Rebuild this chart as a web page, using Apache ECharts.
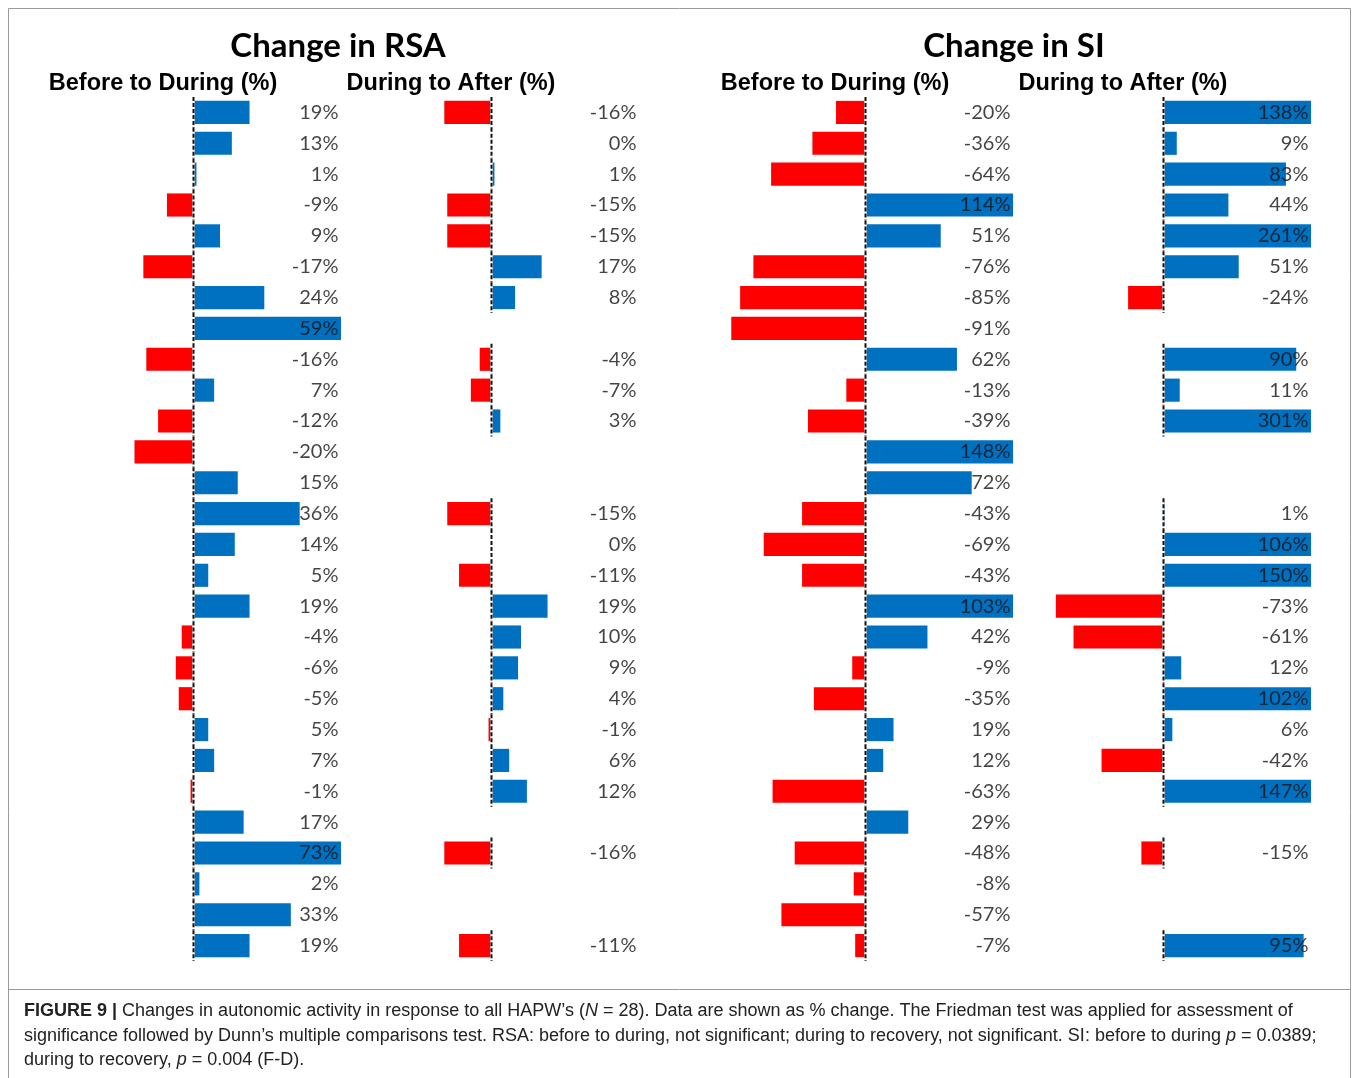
<!DOCTYPE html>
<html>
<head>
<meta charset="utf-8">
<script src="https://cdn.jsdelivr.net/npm/echarts@6/dist/echarts.min.js"></script>
<style>
  html, body { margin: 0; padding: 0; background: #fff; }
  #chart { width: 1358px; height: 1078px; }
</style>
</head>
<body>
<div id="chart"></div>
<script>
// ---- data ----
const rowsCount = 28;
const categories = Array.from({ length: rowsCount }, (_, i) => 'HAPW ' + (i + 1));
const rsaBeforeDuring = [19, 13, 1, -9, 9, -17, 24, 59, -16, 7, -12, -20, 15, 36, 14, 5, 19, -4, -6, -5, 5, 7, -1, 17, 73, 2, 33, 19];
const rsaDuringAfter = [-16, 0, 1, -15, -15, 17, 8, null, -4, -7, 3, null, null, -15, 0, -11, 19, 10, 9, 4, -1, 6, 12, null, -16, null, null, -11];
const siBeforeDuring = [-20, -36, -64, 114, 51, -76, -85, -91, 62, -13, -39, 148, 72, -43, -69, -43, 103, 42, -9, -35, 19, 12, -63, 29, -48, -8, -57, -7];
const siDuringAfter = [138, 9, 83, 44, 261, 51, -24, null, 90, 11, 301, null, null, 1, 106, 150, -73, -61, 12, 102, 6, -42, 147, null, -15, null, null, 95];
const panelTitles = ['Before to During (%)', 'During to After (%)', 'Before to During (%)', 'During to After (%)'];
const mainTitles = ['Change in RSA', 'Change in SI'];
const axisLimits = [50, 50, 100, 100];

// ---- layout ----
const BLUE = '#0070C0', RED = '#FF0000';
const gridLefts = [46, 344, 718, 1016];
const gridWidth = 295;
const gridTop = 97, gridHeight = 864;
const panels = [rsaBeforeDuring, rsaDuringAfter, siBeforeDuring, siDuringAfter];

const grids = [], xAxes = [], yAxes = [], series = [];
panels.forEach((arr, k) => {
  grids.push({ left: gridLefts[k], top: gridTop, width: gridWidth, height: gridHeight });
  xAxes.push({ type: 'value', gridIndex: k, min: -axisLimits[k], max: axisLimits[k], show: false, splitLine: { show: false } });
  yAxes.push({ type: 'category', gridIndex: k, data: categories, inverse: true, show: false });
  series.push({
    type: 'bar', xAxisIndex: k, yAxisIndex: k,
    data: arr,
    barCategoryGap: '25%',
    clip: true,
    itemStyle: { color: p => (p.value < 0 ? RED : BLUE) },
    z: 2,
    silent: true
  });
  const present = [];
  arr.forEach((v, i) => { if (v !== null) present.push([0, i, v]); });
  series.push({
    type: 'custom', xAxisIndex: k, yAxisIndex: k,
    data: present,
    encode: { x: 0, y: 1 },
    clip: false,
    z: 5,
    silent: true,
    renderItem: (params, api) => {
      const c = api.coord([api.value(0), api.value(1)]);
      const h = api.size([0, 1])[1];
      return {
        type: 'group',
        children: [
          { type: 'line', shape: { x1: c[0], y1: c[1] - h / 2, x2: c[0], y2: c[1] + h / 2 }, style: { stroke: '#ffffff', lineWidth: 2.4 } },
          { type: 'line', shape: { x1: c[0], y1: c[1] - h / 2, x2: c[0], y2: c[1] + h / 2 }, style: { stroke: '#111', lineWidth: 2, lineDash: [4, 2] } }
        ]
      };
    }
  });
  series.push({
    type: 'scatter', xAxisIndex: k, yAxisIndex: k,
    data: present.map(d => [axisLimits[k], d[1], d[2]]),
    symbolSize: 1,
    clip: false,
    itemStyle: { color: 'transparent' },
    z: 6,
    silent: true,
    label: {
      show: true, position: 'left', distance: 2,
      formatter: p => p.value[2] + '%',
      color: '#141414', fontSize: 20, fontFamily: 'Lato'
    }
  });
});

const titleCenters = [338, 1014];
const subCenters = [163, 451, 835, 1123];
const graphics = [
  { type: 'rect', shape: { x: 8.5, y: 8.5, width: 1342, height: 1090 }, style: { fill: 'none', stroke: '#9a9a9a', lineWidth: 1 }, silent: true },
  { type: 'line', shape: { x1: 8.5, y1: 989.5, x2: 1350.5, y2: 989.5 }, style: { stroke: '#9a9a9a', lineWidth: 1 }, silent: true }
];
mainTitles.forEach((t, i) => graphics.push({
  type: 'text', x: titleCenters[i], y: 46,
  style: { text: t, font: 'bold 33px Lato', fill: '#000', textAlign: 'center', textVerticalAlign: 'middle' }
}));
panelTitles.forEach((t, i) => graphics.push({
  type: 'text', x: subCenters[i], y: 84,
  style: { text: t, font: 'bold 23.5px "Liberation Sans"', fill: '#000', textAlign: 'center', textVerticalAlign: 'middle' }
}));
const capRich = {
  b: { fontFamily: 'Liberation Sans', fontWeight: 'bold', fontSize: 18, fill: '#222', color: '#222' },
  i: { fontFamily: 'Liberation Sans', fontStyle: 'italic', fontSize: 18, fill: '#222', color: '#222' },
  n: { fontFamily: 'Liberation Sans', fontSize: 18, fill: '#222', color: '#222' }
};
const captionLines = [
  '{b|FIGURE 9 |}{n| Changes in autonomic activity in response to all HAPW\u2019s (}{i|N}{n| = 28). Data are shown as % change. The Friedman test was applied for assessment of}',
  '{n|significance followed by Dunn\u2019s multiple comparisons test. RSA: before to during, not significant; during to recovery, not significant. SI: before to during }{i|p}{n| = 0.0389;}',
  '{n|during to recovery, }{i|p}{n| = 0.004 (F-D).}'
];
const capY = [1011, 1036, 1060];
captionLines.forEach((t, i) => graphics.push({
  type: 'text', x: 24, y: capY[i],
  style: { text: t, rich: capRich, font: '18px "Liberation Sans"', fill: '#222', textAlign: 'left', textVerticalAlign: 'middle' }
}));

const chart = echarts.init(document.getElementById('chart'), null, { renderer: 'canvas' });
chart.setOption({
  animation: false,
  backgroundColor: '#fff',
  grid: grids,
  xAxis: xAxes,
  yAxis: yAxes,
  series: series,
  graphic: graphics
});
</script>
</body>
</html>
